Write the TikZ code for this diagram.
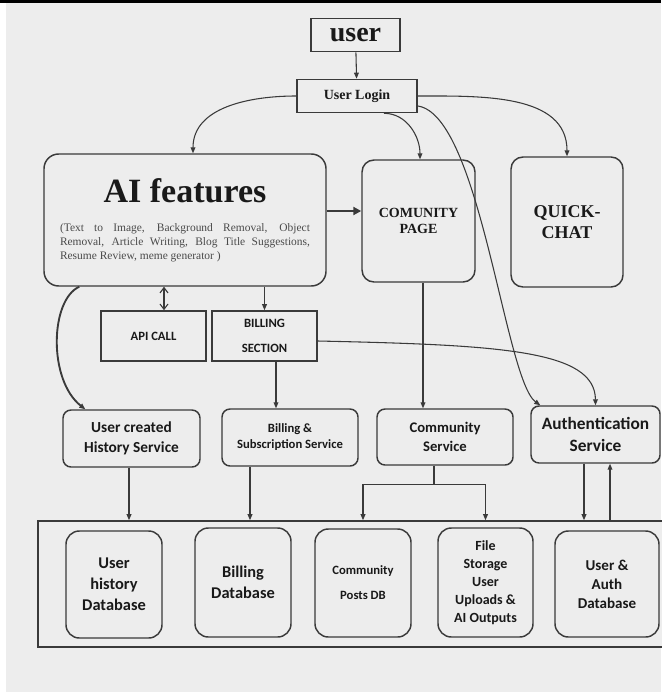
\documentclass[tikz,border=0pt]{standalone}
\usepackage{fontspec}
\setmainfont{Liberation Serif}
\newfontfamily\calibri{Carlito}
\usetikzlibrary{arrows.meta,calc}
\definecolor{bgc}{HTML}{EDEDED}
\definecolor{edge}{HTML}{3A3A3A}
\definecolor{desc}{HTML}{4A4A4A}

\begin{document}
\begin{tikzpicture}[x=0.75pt,y=-0.75pt,
  every node/.style={inner sep=0pt,text=black!90,align=center},
  sqbox/.style={draw=edge,line width=1.2pt,fill=bgc},
  rbox/.style={draw=edge,line width=1.1pt,fill=bgc,rounded corners=#1},
  rbox/.default=6pt,
  link/.style={draw=edge,line width=0.8pt,-{Triangle[length=4.5pt,width=3.6pt]}},
  twoway/.style={draw=edge,line width=0.8pt,{Straight Barb[length=4pt,width=6pt]}-{Straight Barb[length=4pt,width=6pt]}}]

\useasboundingbox (0,0) rectangle (661,692);
\fill[white] (0,0) rectangle (661,692);
\fill[bgc] (6,3) rectangle (661,692);
\fill[black] (0,0) rectangle (661,3);

% top of the flow
\node[sqbox,minimum width=66.75pt,minimum height=24.75pt,font=\bfseries\fontsize{21}{24}\selectfont] (user) at (355.5,35) {user};
\node[sqbox,minimum width=90pt,minimum height=24.75pt,font=\bfseries\fontsize{10.5}{12}\selectfont] (login) at (357,96) {User Login};

% pages
\node[rbox=11pt,minimum width=211.5pt,minimum height=99pt,text width=187.5pt,align=none] (ai) at (185,220)
{{\centering\bfseries\fontsize{25.5}{28}\selectfont AI features\par}\vspace{12pt}%
{\fontsize{8.6}{10.3}\selectfont\color{desc}(Text to Image, Background Removal, Object\linebreak
Removal, Article Writing, Blog Title Suggestions,\linebreak
Resume Review, meme generator )\par}};
\node[rbox=9pt,minimum width=84.75pt,minimum height=91.5pt,font=\bfseries\fontsize{10.5}{12}\selectfont] (cpage) at (418.5,221) {COMUNITY\\PAGE};
\node[rbox=9pt,minimum width=84pt,minimum height=97.5pt,font=\bfseries\fontsize{13.5}{15.75}\selectfont] (quick) at (567,222) {QUICK-\\CHAT};

\node[sqbox,minimum width=78.75pt,minimum height=37.5pt,font=\calibri\bfseries\fontsize{9.5}{12}\selectfont] (api) at (153.5,336) {API CALL};
\node[sqbox,minimum width=78.75pt,minimum height=37.5pt,font=\calibri\bfseries\fontsize{9.5}{12}\selectfont] (bsec) at (264.5,336) {BILLING\\[7pt]SECTION};

% services
\node[rbox,minimum width=102.75pt,minimum height=42.75pt,font=\calibri\bfseries\fontsize{11.5}{15}\selectfont] (hist) at (131.5,438.5) {User created\\History Service};
\node[rbox,minimum width=102pt,minimum height=42.75pt,font=\calibri\bfseries\fontsize{9.5}{12}\selectfont] (billsub) at (290,437.5) {Billing \&\\Subscription Service};
\node[rbox,minimum width=102pt,minimum height=42pt,font=\calibri\bfseries\fontsize{11}{14.25}\selectfont] (commsvc) at (445,437) {Community\\Service};
\node[rbox,minimum width=96.75pt,minimum height=42.75pt,font=\calibri\bfseries\fontsize{13}{16.5}\selectfont] (auth) at (595.5,434.5) {Authentication\\Service};

% storage
\node[sqbox,minimum width=481.5pt,minimum height=94.5pt] (store) at (359,584) {};
\node[rbox=10pt,minimum width=72pt,minimum height=80.25pt,font=\calibri\bfseries\fontsize{12.3}{15.75}\selectfont] (uhdb) at (114,584.5) {User\\history\\Database};
\node[rbox=10pt,minimum width=72pt,minimum height=81.75pt,font=\calibri\bfseries\fontsize{12.3}{15.75}\selectfont] (billdb) at (243,582.5) {Billing\\Database};
\node[rbox=10pt,minimum width=72pt,minimum height=81pt,font=\calibri\bfseries\fontsize{9.5}{18.75}\selectfont] (cpdb) at (363,583) {Community\\Posts DB};
\node[rbox=10pt,minimum width=71.25pt,minimum height=81.75pt,font=\calibri\bfseries\fontsize{10.5}{13.5}\selectfont] (filedb) at (485.5,582.5) {File\\Storage\\User\\Uploads \&\\AI Outputs};
\node[rbox=10pt,minimum width=78pt,minimum height=79.5pt,font=\calibri\bfseries\fontsize{11.3}{14.25}\selectfont] (authdb) at (607,584) {User \&\\Auth\\Database};

% connectors
\draw[link] (user) -- (login);
\draw[link] (login.west) to[out=180,in=90] ($(ai.north)+(8,0)$);
\draw[link] ($(login.south)+(27,0)$) to[out=0,in=90] ($(cpage.north)+(1.5,0)$);
\draw[link] (login.east) to[out=0,in=90] (quick.north);
\draw[link] ($(login.east)+(0,10)$) .. controls (480,115) and (505,380) .. ($(auth.north west)+(10,0)$);

\draw[link,line width=2.2pt,-{Triangle[length=6pt,width=6pt]}] ($(ai.east)+(0,-9)$) -- ($(cpage.west)+(0,-10)$);
\draw[twoway] ($(api.north)+(10.5,0)$) coordinate (a1) -- (a1 |- ai.south);
\draw[link] (ai.south -| bsec.north) -- (bsec.north);
\draw[link,line width=1.4pt] ($(ai.south west)+(36,0)$) .. controls (50,300) and (48,380) .. ($(hist.north west)+(23,0)$);

\draw[link] ($(bsec.south)+(11.5,0)$) coordinate (b1) -- (b1 |- billsub.north);
\draw[link] ($(bsec.east)+(0,5)$) .. controls (500,345) and (595,350) .. (auth.north);
\draw[link] ($(cpage.south)+(4.5,0)$) coordinate (c1) -- (c1 |- commsvc.north);

\draw[link] ($(hist.south)+(-2.5,0)$) coordinate (h1) -- (h1 |- store.north);
\draw[link] ($(billsub.south)+(-40,0)$) coordinate (h2) -- (h2 |- store.north);
\draw[draw=edge,line width=0.8pt] ($(commsvc.south)+(-11,0)$) -- ++(0,19) coordinate (s2);
\draw[link] (s2) -| (cpdb.north |- store.north);
\draw[link] (s2) -| (filedb.north |- store.north);
\draw[link] ($(auth.south)+(-11.5,0)$) coordinate (u1) -- (u1 |- store.north);
\draw[link] ($(auth.south)+(14.5,0)$) coordinate (u2) ($(u2 |- store.north)$) -- (u2);
\end{tikzpicture}
\end{document}
